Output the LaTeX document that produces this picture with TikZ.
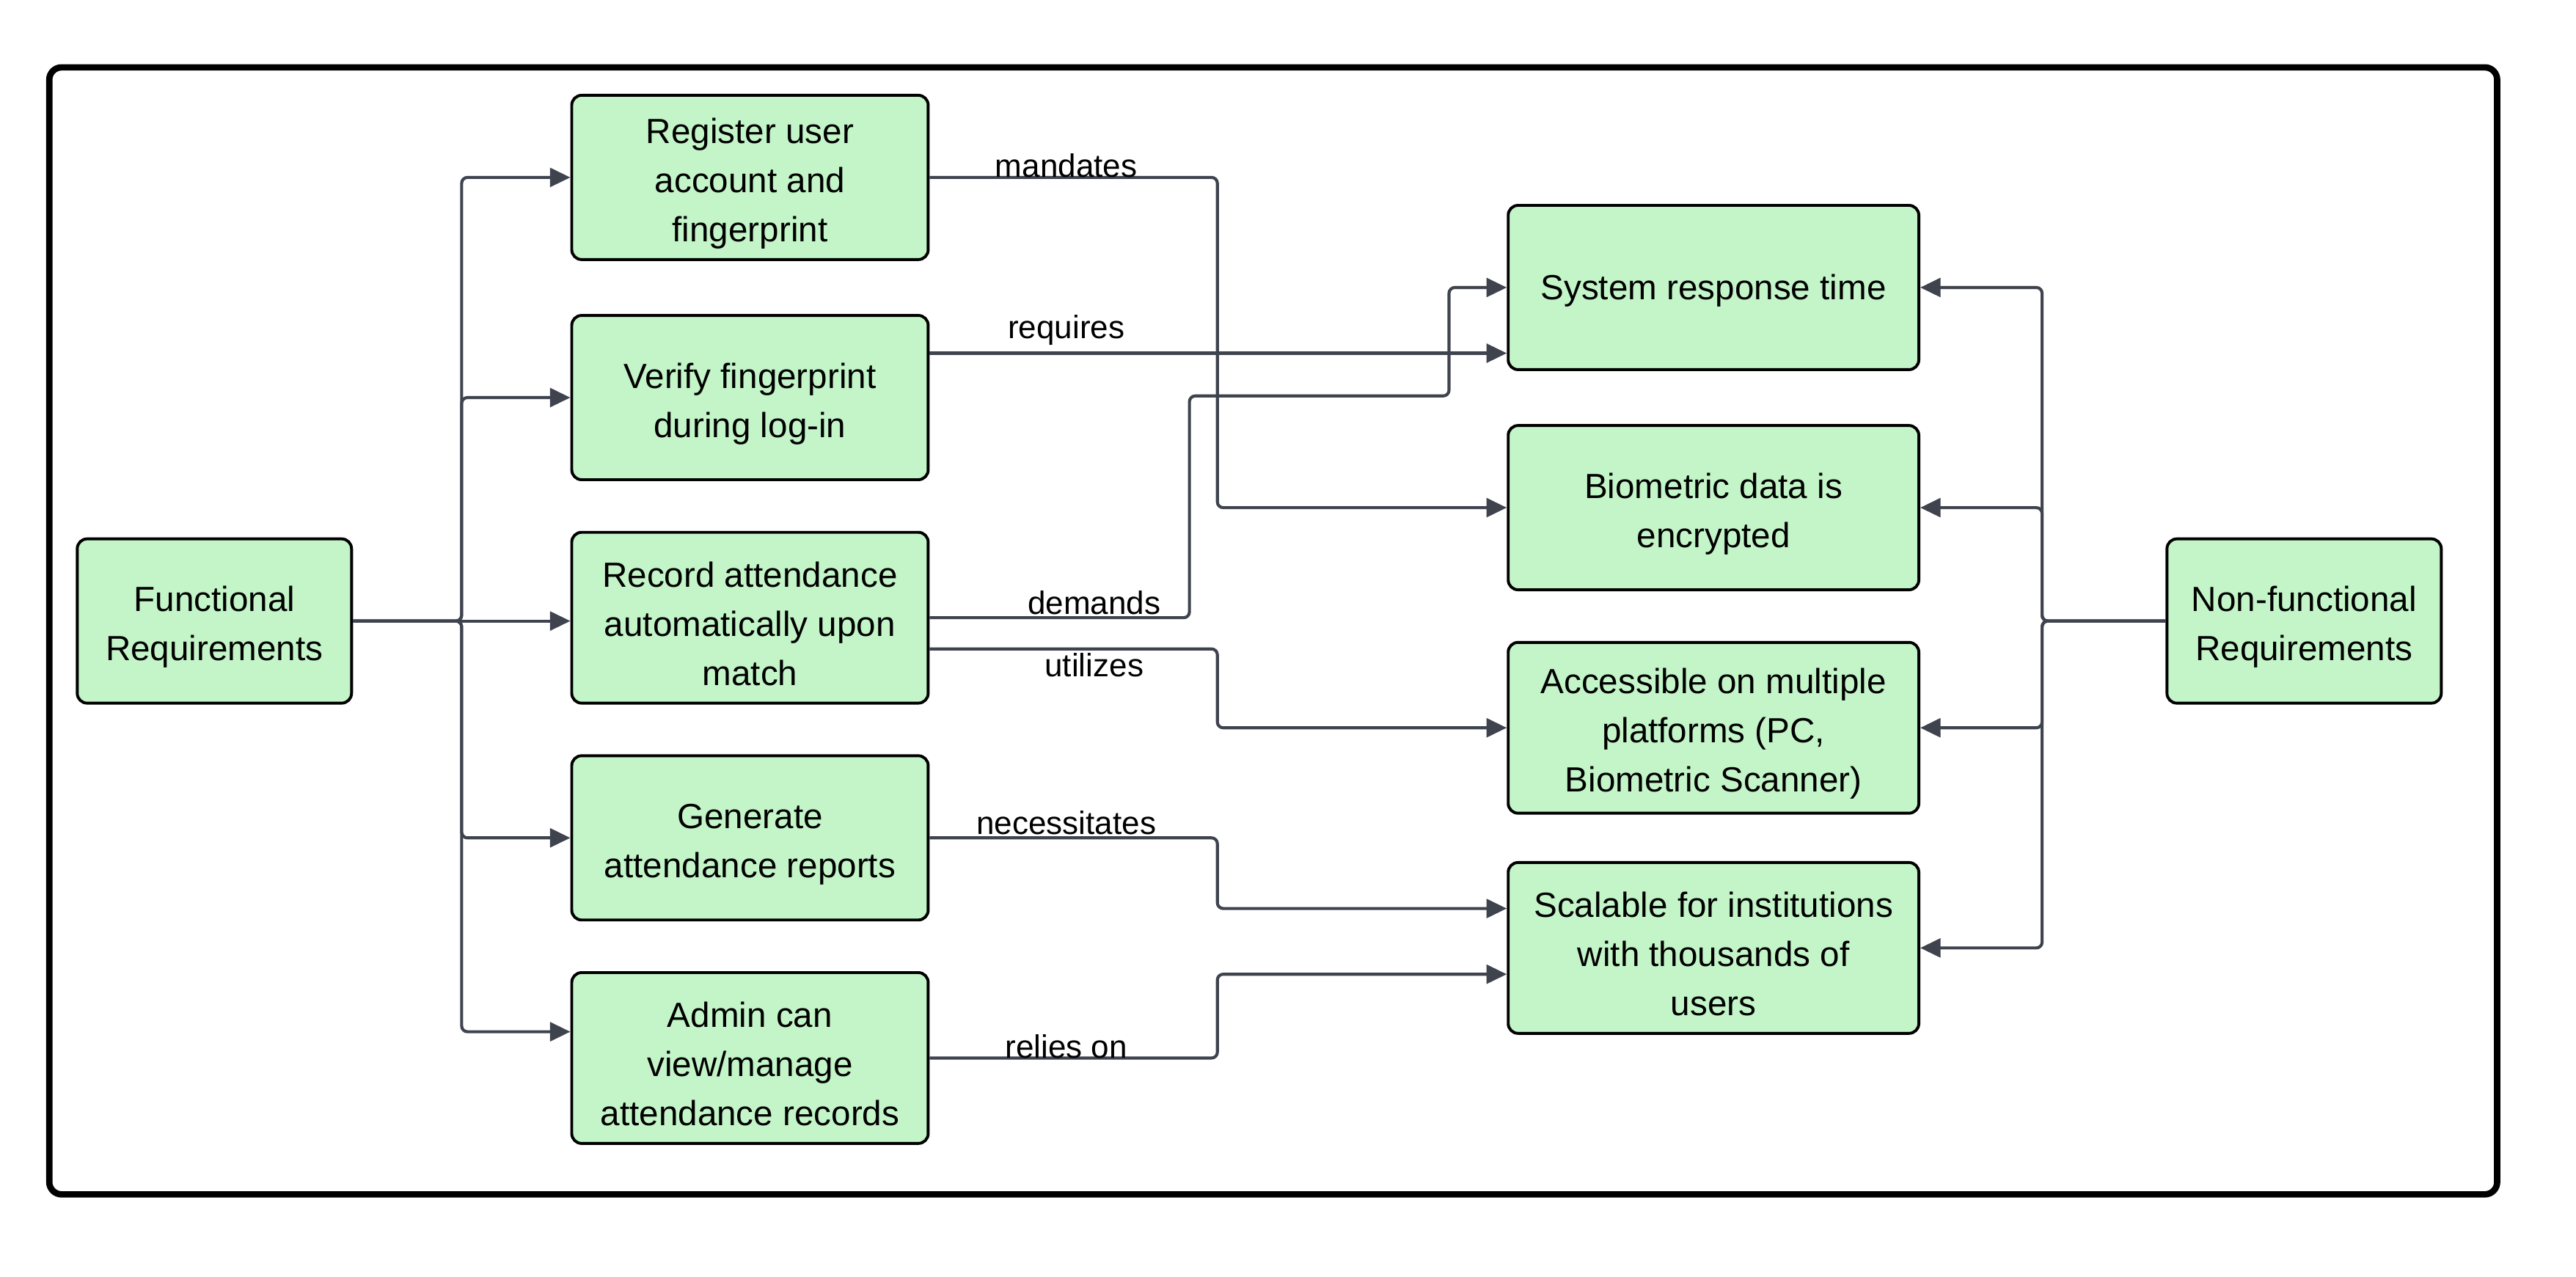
\documentclass[tikz,border=0pt]{standalone}
\usepackage{fontspec}
\setmainfont{Liberation Sans}
\usetikzlibrary{arrows.meta,calc}
\definecolor{boxfill}{RGB}{195,245,200}
\definecolor{linegray}{RGB}{62,67,78}
\newcommand{\topstrut}{\rule{0pt}{13pt}}
\tikzset{
  box/.style={draw=black, line width=1pt, fill=boxfill, rounded corners=0.12cm, align=center, inner sep=2pt,
    font=\fontsize{12.1}{17}\selectfont},
  conn/.style={draw=linegray, line width=1.05pt, rounded corners=2pt, -{Triangle[length=7pt,width=6.5pt]}},
  lbl/.style={font=\fontsize{11.2}{13}\selectfont, inner sep=1pt}
}
\begin{document}
\begin{tikzpicture}[x=0.02cm,y=-0.02cm]
\useasboundingbox (0,0) rectangle (1568,777);
\draw[line width=2.2pt, rounded corners=0.15cm] (30,41) rectangle (1520,727);

\node[box, minimum width=3.34cm, minimum height=2.0cm] (fr) at (130.5,378) {\topstrut Functional\\Requirements};
\node[box, minimum width=3.34cm, minimum height=2.0cm] (nf) at (1402.5,378) {\topstrut Non-functional\\Requirements};

\node[box, minimum width=4.34cm, minimum height=2.0cm] (reg) at (456.5,108) {\topstrut Register user\\account and\\fingerprint};
\node[box, minimum width=4.34cm, minimum height=2.0cm] (ver) at (456.5,242) {\topstrut Verify fingerprint\\during log-in};
\node[box, minimum width=4.34cm, minimum height=2.08cm] (rec) at (456.5,376) {\topstrut Record attendance\\automatically upon\\match};
\node[box, minimum width=4.34cm, minimum height=2.0cm] (gen) at (456.5,510) {\topstrut Generate\\attendance reports};
\node[box, minimum width=4.34cm, minimum height=2.08cm] (adm) at (456.5,644) {\topstrut Admin can\\view/manage\\attendance records};

\node[box, minimum width=5.0cm, minimum height=2.0cm] (sys) at (1043,175) {\rule{0pt}{11pt}System response time};
\node[box, minimum width=5.0cm, minimum height=2.0cm] (bio) at (1043,309) {\topstrut Biometric data is\\encrypted};
\node[box, minimum width=5.0cm, minimum height=2.08cm] (acc) at (1043,443) {\topstrut Accessible on multiple\\platforms (PC,\\Biometric Scanner)};
\node[box, minimum width=5.0cm, minimum height=2.08cm] (sca) at (1043,577) {\topstrut Scalable for institutions\\with thousands of\\users};

% functional trunk
\coordinate (ft) at (281,378);
\draw[conn] (fr.east) -- (ft) |- (reg.west);
\draw[conn] (fr.east) -- (ft) |- (ver.west);
\draw[conn] (fr.east) -- (rec.west |- ft);
\draw[conn] (fr.east) -- (ft) |- (gen.west);
\draw[conn] (fr.east) -- (ft) |- ($(adm.west)+(0,-16)$);

% non-functional trunk
\coordinate (nt) at (1243,378);
\draw[conn] (nf.west) -- (nt) |- (sys.east);
\draw[conn] (nf.west) -- (nt) |- (bio.east);
\draw[conn] (nf.west) -- (nt) |- (acc.east);
\draw[conn] (nf.west) -- (nt) |- (sca.east);

% labelled relations
\draw[conn] (reg.east) -- (741,108) |- (bio.west);
\node[lbl] (lmand) at (649,101) {mandates};

\draw[conn] ($(ver.east)+(0,-27)$) -- ($(sys.west)+(0,40)$);
\node[lbl] (lreq) at (649,201) {requires};

\draw[conn] (rec.east) -- (724,376) -- (724,241) -- (882,241) -- (882,175) -- (sys.west);
\node[lbl] (ldem) at (666,367) {demands};

\draw[conn] ($(rec.east)+(0,19)$) -- (741,395) |- (acc.west);
\node[lbl] (lutil) at (666,405) {utilizes};

\draw[conn] (gen.east) -- (741,510) |- ($(sca.west)+(0,-24)$);
\node[lbl] (lnec) at (649,501) {necessitates};

\draw[conn] (adm.east) -- (741,644) |- ($(sca.west)+(0,16)$);
\node[lbl] (lrel) at (649,637) {relies on};
\end{tikzpicture}
\end{document}
